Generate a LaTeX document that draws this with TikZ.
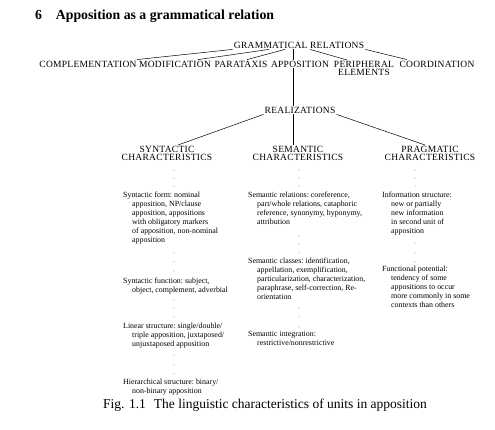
\documentclass[tikz,border=0pt]{standalone}
\usepackage{fontspec}
\setmainfont{Liberation Serif}
\newfontfamily\capsfont[LetterSpace=3]{Liberation Serif}
\newcommand{\nextline}{\\\hspace*{9pt}}

\begin{document}
\begin{tikzpicture}[
    x=1pt, y=-1pt,
    cat/.style={inner sep=1pt, align=center,
                font=\capsfont\fontsize{9.5}{8.5}\selectfont},
    entry/.style={anchor=north west, inner sep=0pt, align=left,
                  font=\frenchspacing\fontsize{7.9}{9}\selectfont},
    link/.style={line width=0.5pt},
]
    \useasboundingbox (0,0) rectangle (495,430);

    \node[inner sep=0pt, anchor=base west, font=\bfseries\fontsize{13.8}{15}\selectfont]
        (title) at (35,20) {6\quad Apposition as a grammatical relation};

    % top levels
    \node[cat] (gr) at (299,45) {GRAMMATICAL RELATIONS};
    \node[cat] (comp) at (88,64) {COMPLEMENTATION};
    \node[cat] (modif) at (175,64) {MODIFICATION};
    \node[cat] (parat) at (241,64) {PARATAXIS};
    \node[cat] (appos) at (300,64) {APPOSITION};
    \node[cat, anchor=north] (periph) at (364,60) {PERIPHERAL\\ELEMENTS};
    \node[cat] (coord) at (437,64) {COORDINATION};

    \draw[link] (gr.south west) -- ([xshift=-1pt]comp.north east);
    \draw[link] ([xshift=-30pt]gr.south) -- ([xshift=23pt]modif.north);
    \draw[link] ([xshift=-14pt]gr.south) -- ([xshift=6pt]parat.north);
    \draw[link] ([xshift=-6pt]gr.south) -- ([xshift=-7pt]appos.north);
    \draw[link] ([xshift=11pt]gr.south) -- ([xshift=-17pt]periph.north);
    \draw[link] (gr.south east) -- ([xshift=-30pt]coord.north);

    \node[cat] (real) at (300,110) {REALIZATIONS};
    \draw[link] ([xshift=-7pt]appos.south) -- ([xshift=-7pt]real.north);

    \node[cat, anchor=north] (syn) at (167,145) {SYNTACTIC\\CHARACTERISTICS};
    \node[cat, anchor=north] (sem) at (298,145) {SEMANTIC\\CHARACTERISTICS};
    \node[cat, anchor=north] (prag) at (430,145) {PRAGMATIC\\CHARACTERISTICS};

    \draw[link] (real.south west) -- ([xshift=11pt]syn.north);
    \draw[link] ([xshift=-7pt]real.south) -- ([xshift=-5pt]sem.north);
    \draw[link] (real.south east) -- ([xshift=-5pt]prag.north);

    % syntactic column
    \node[entry] (syn1) at (123,192) {Syntactic form: nominal\nextline
        apposition, NP/clause\nextline apposition, appositions\nextline
        with obligatory markers\nextline of apposition, non-nominal\nextline apposition};
    \node[entry] (syn2) at (123,278) {Syntactic function: subject,\nextline
        object, complement, adverbial};
    \node[entry] (syn3) at (123,323) {Linear structure: single/double/\nextline
        triple apposition, juxtaposed/\nextline unjuxtaposed apposition};
    \node[entry] (syn4) at (123,379) {Hierarchical structure: binary/\nextline
        non-binary apposition};

    % semantic column
    \node[entry] (sem1) at (248,192) {Semantic relations: coreference,\nextline
        part/whole relations, cataphoric\nextline reference, synonymy, hyponymy,\nextline
        attribution};
    \node[entry] (sem2) at (248,258) {Semantic classes: identification,\nextline
        appellation, exemplification,\nextline particularization, characterization,\nextline
        paraphrase, self-correction, Re-\nextline orientation};
    \node[entry] (sem3) at (248,331) {Semantic integration:\nextline
        restrictive/nonrestrictive};

    % pragmatic column
    \node[entry] (prag1) at (382,192) {Information structure:\nextline
        new or partially\nextline new information\nextline in second unit of\nextline apposition};
    \node[entry] (prag2) at (382,266) {Functional potential:\nextline
        tendency of some\nextline appositions to occur\nextline more commonly in some\nextline
        contexts than others};

    % dotted continuations
    \foreach \x/\y in {174/170, 174/178, 174/186, 174/253, 174/262, 174/271,
                       174/300, 174/308, 174/317, 174/355, 174/365, 174/374,
                       299/170, 299/178, 299/186, 299/236, 299/244, 299/253,
                       299/308, 299/317, 299/327,
                       415/170, 415/178, 415/186, 415/243, 415/253, 415/262}
        \fill (\x,\y) circle (0.45pt);

    \node[inner sep=0pt, anchor=base west, font=\fontsize{13.5}{15}\selectfont]
        (caption) at (103,408) {Fig. 1.1\hspace{8pt}The linguistic characteristics of units in apposition};

\end{tikzpicture}
\end{document}
